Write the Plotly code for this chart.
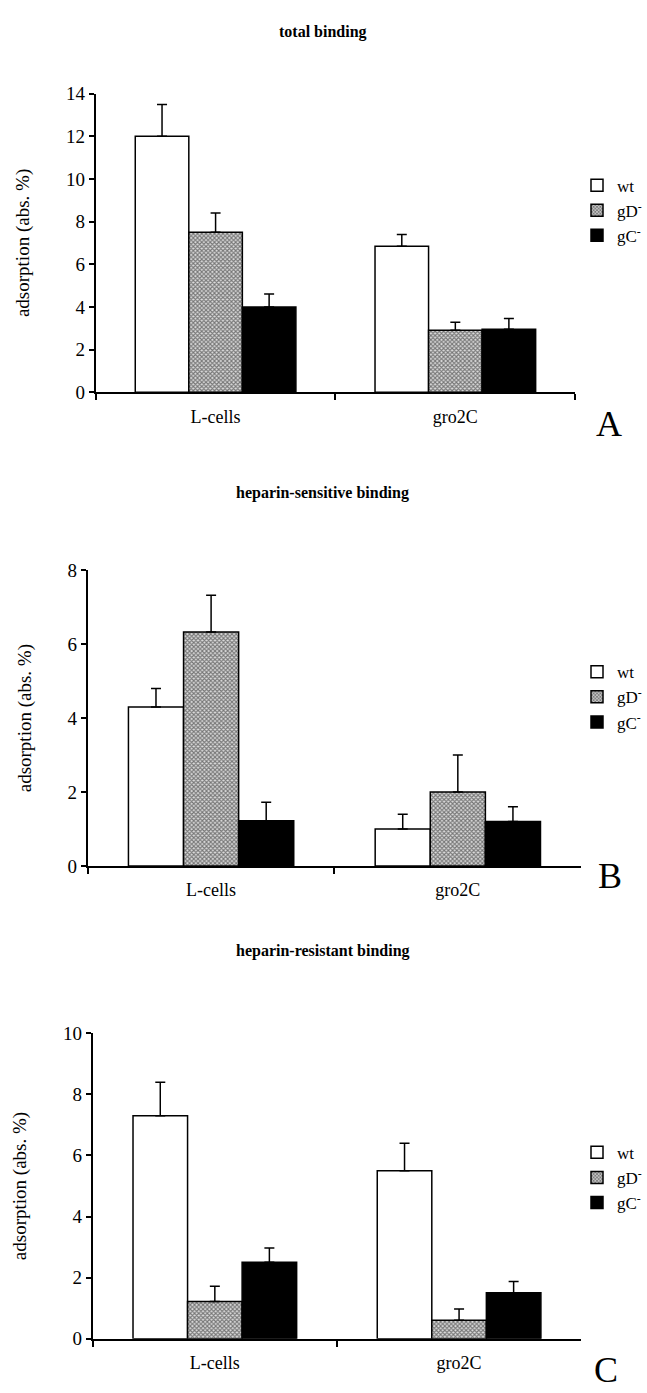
import plotly.graph_objects as go

W, H = 647, 1393

categories = ["L-cells", "gro2C"]
series_names = ["wt", "gD<sup>-</sup>", "gC<sup>-</sup>"]

# Panel A: total binding
a_wt = [12.0, 6.85]
a_wt_err = [1.5, 0.55]
a_gd = [7.5, 2.9]
a_gd_err = [0.9, 0.38]
a_gc = [4.0, 2.95]
a_gc_err = [0.6, 0.5]

# Panel B: heparin-sensitive binding
b_wt = [4.3, 1.0]
b_wt_err = [0.5, 0.4]
b_gd = [6.33, 2.0]
b_gd_err = [1.0, 1.0]
b_gc = [1.22, 1.2]
b_gc_err = [0.5, 0.4]

# Panel C: heparin-resistant binding
c_wt = [7.3, 5.5]
c_wt_err = [1.1, 0.9]
c_gd = [1.22, 0.6]
c_gd_err = [0.5, 0.37]
c_gc = [2.5, 1.5]
c_gc_err = [0.47, 0.37]

panel_titles = ["total binding", "heparin-sensitive binding", "heparin-resistant binding"]
panel_letters = ["A", "B", "C"]
y_ranges = [[0, 14], [0, 8], [0, 10]]
y_dticks = [2, 2, 2]

SERIF = "Liberation Serif, Times New Roman, serif"

def px_x(x):
    return x / W

def px_y(y):
    return 1 - y / H

# layout geometry (pixels)
panels_geom = [
    dict(x0=96, x1=577, ytop=85, ybot=388, title_y=22, letter=(611, 420), legend_top=160),
    dict(x0=88, x1=583, ytop=569, ybot=869, title_y=490, letter=(612, 879), legend_top=654),
    dict(x0=93, x1=583, ytop=1039, ybot=1349, title_y=955, letter=(608, 1381), legend_top=1142),
]

data_sets = [
    [(a_wt, a_wt_err), (a_gd, a_gd_err), (a_gc, a_gc_err)],
    [(b_wt, b_wt_err), (b_gd, b_gd_err), (b_gc, b_gc_err)],
    [(c_wt, c_wt_err), (c_gd, c_gd_err), (c_gc, c_gc_err)],
]

styles = [
    dict(color="white", pattern=None),
    dict(color="white", pattern=dict(shape="x", size=3, solidity=0.6, fgcolor="#111111", bgcolor="#dddddd")),
    dict(color="black", pattern=None),
]

fig = go.Figure()
legend_keys = ["legend", "legend2", "legend3"]

for p, (dsets, g) in enumerate(zip(data_sets, panels_geom)):
    xa = "x" if p == 0 else f"x{p+1}"
    ya = "y" if p == 0 else f"y{p+1}"
    for s, ((vals, errs), st) in enumerate(zip(dsets, styles)):
        marker = dict(color=st["color"], line=dict(color="black", width=1.5))
        if st["pattern"] is not None:
            marker["pattern"] = st["pattern"]
        fig.add_trace(go.Bar(
            x=categories, y=vals, name=series_names[s],
            marker=marker,
            error_y=dict(type="data", array=errs, arrayminus=[0] * len(errs), symmetric=False,
                         color="black", thickness=1.5, width=5),
            xaxis=xa, yaxis=ya,
            legend=legend_keys[p], legendgroup=f"p{p}s{s}",
            showlegend=True,
        ))

layout = dict(
    width=W, height=H,
    margin=dict(l=0, r=0, t=0, b=0),
    paper_bgcolor="white", plot_bgcolor="white",
    barmode="group", bargap=0.33, bargroupgap=0,
    font=dict(family=SERIF, color="black", size=17),
    annotations=[],
)

for p, g in enumerate(panels_geom):
    xk = "xaxis" if p == 0 else f"xaxis{p+1}"
    yk = "yaxis" if p == 0 else f"yaxis{p+1}"
    yname = "y" if p == 0 else f"y{p+1}"
    xname = "x" if p == 0 else f"x{p+1}"
    layout[xk] = dict(
        domain=[px_x(g["x0"]), px_x(g["x1"])], anchor=yname,
        type="category", range=[-0.5, 1.5],
        showline=True, linecolor="black", linewidth=2,
        ticks="outside", tickson="boundaries", ticklen=6, tickwidth=2, tickcolor="black",
        tickfont=dict(family=SERIF, size=18, color="black"),
        ticklabelstandoff=7,
        showgrid=False, zeroline=False, fixedrange=True,
    )
    layout[yk] = dict(
        domain=[px_y(g["ybot"]), px_y(g["ytop"])], anchor=xname,
        range=y_ranges[p], dtick=y_dticks[p], tick0=0,
        showline=True, linecolor="black", linewidth=2,
        ticks="outside", ticklen=5, tickwidth=2, tickcolor="black",
        tickfont=dict(family=SERIF, size=19, color="black"),
        showgrid=False, zeroline=False, fixedrange=True,
        title=dict(text="adsorption (abs. %)", font=dict(family=SERIF, size=19, color="black"), standoff=31),
    )
    lk = legend_keys[p]
    layout[lk] = dict(
        x=px_x(579), xanchor="left", y=px_y(g["legend_top"]), yanchor="top",
        bgcolor="rgba(0,0,0,0)", borderwidth=0,
        font=dict(family=SERIF, size=17, color="black"),
        tracegroupgap=11, traceorder="normal",
    )
    layout["annotations"].append(dict(
        text=f"<b>{panel_titles[p]}</b>", x=0.5, y=px_y(g["title_y"]),
        xref="paper", yref="paper", xanchor="center", yanchor="middle", showarrow=False,
        font=dict(family=SERIF, size=16, color="black"),
    ))
    lx, ly = g["letter"]
    layout["annotations"].append(dict(
        text=panel_letters[p], x=px_x(lx), y=px_y(ly),
        xref="paper", yref="paper", xanchor="center", yanchor="middle", showarrow=False,
        font=dict(family=SERIF, size=36, color="black"),
    ))

fig.update_layout(**layout)
fig.write_html("out.html")
